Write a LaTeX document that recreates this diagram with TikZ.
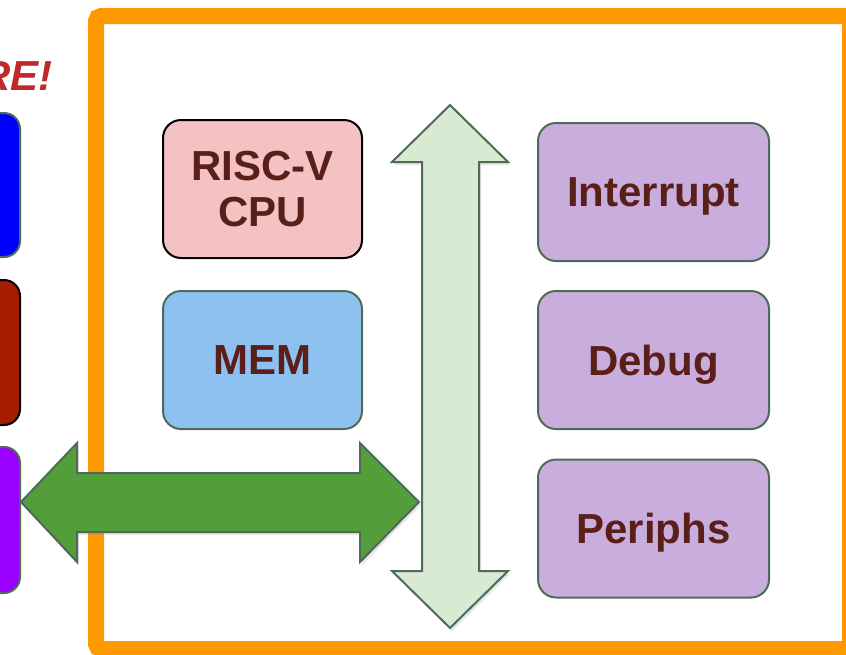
\documentclass[tikz,border=0pt]{standalone}
\usepackage{fontspec}
\setmainfont{Liberation Sans}
\usetikzlibrary{shadows}

\definecolor{framecol}{HTML}{FF9900}
\definecolor{textcol}{HTML}{5B1F1A}
\definecolor{edgecol}{HTML}{4E6B58}
\definecolor{cpucol}{HTML}{F4C2C2}
\definecolor{memcol}{HTML}{8FC1F0}
\definecolor{devcol}{HTML}{C9AEDD}
\definecolor{buscol}{HTML}{D9EAD3}
\definecolor{linkcol}{HTML}{539E3B}
\definecolor{shoutcol}{HTML}{C0282A}

\tikzset{
	block/.style = {draw, line width = 2pt, rounded corners = 18pt, minimum height = 138pt,
		text depth = 0pt, align = center, text = textcol, font = \bfseries\fontsize{42}{46}\selectfont},
	sideblock/.style = {draw = edgecol, line width = 2pt, rounded corners = 16pt},
	bigarrow/.style = {draw = edgecol, line width = 2pt, line join = miter,
		drop shadow = {opacity = 0.2, shadow xshift = 2pt, shadow yshift = -3pt}}
}

\begin{document}
\begin{tikzpicture}[x = 1pt, y = -1pt]
					\clip (0, 0) rectangle (846, 654);

					\coordinate (f1) at (96, 16);
					\coordinate (f2) at (850, 649);

					\coordinate (v1) at (450, 105);
					\coordinate (v2) at (508, 162);
					\coordinate (v3) at (479, 162);
					\coordinate (v4) at (479, 571);
					\coordinate (v5) at (508, 571);
					\coordinate (v6) at (450, 628);
					\coordinate (v7) at (392, 571);
					\coordinate (v8) at (422, 571);
					\coordinate (v9) at (422, 162);
					\coordinate (v10) at (392, 162);

					\coordinate (h1) at (21, 502);
					\coordinate (h2) at (77, 443);
					\coordinate (h3) at (77, 473);
					\coordinate (h4) at (360, 473);
					\coordinate (h5) at (360, 443);
					\coordinate (h6) at (419, 502);
					\coordinate (h7) at (360, 562);
					\coordinate (h8) at (360, 532);
					\coordinate (h9) at (77, 532);
					\coordinate (h10) at (77, 562);

					\draw [framecol, line width = 16pt, rounded corners = 5pt] (f1) rectangle (f2);

					\node [anchor = base east, text = shoutcol, font = \bfseries\itshape\fontsize{42}{46}\selectfont] (shout) at (56, 90) {RE!};

					\draw [sideblock, fill = blue] (-40, 113) rectangle (20, 257);
					\draw [sideblock, draw = black, fill = {rgb,255:red,165;green,28;blue,0}] (-40, 280) rectangle (20, 425);
					\draw [sideblock, fill = {rgb,255:red,153;green,0;blue,255}] (-40, 447) rectangle (20, 593);

					\draw [bigarrow, fill = buscol] (v1) -- (v2) -- (v3) -- (v4) -- (v5) -- (v6) -- (v7) -- (v8) -- (v9) -- (v10) -- cycle;
					\draw [bigarrow, fill = linkcol] (h1) -- (h2) -- (h3) -- (h4) -- (h5) -- (h6) -- (h7) -- (h8) -- (h9) -- (h10) -- cycle;

					\node [block, fill = cpucol, minimum width = 199pt] (cpu) at (262.5, 189) {RISC-V\\CPU};
					\node [block, fill = memcol, draw = edgecol, minimum width = 199pt] (mem) at (262.5, 360) {MEM};
					\node [block, fill = devcol, draw = edgecol, minimum width = 231pt] (irq) at (653.5, 192) {Interrupt};
					\node [block, fill = devcol, draw = edgecol, minimum width = 231pt] (dbg) at (653.5, 360) {Debug};
					\node [block, fill = devcol, draw = edgecol, minimum width = 231pt] (per) at (653.5, 528.5) {Periphs};
				\end{tikzpicture}
\end{document}
